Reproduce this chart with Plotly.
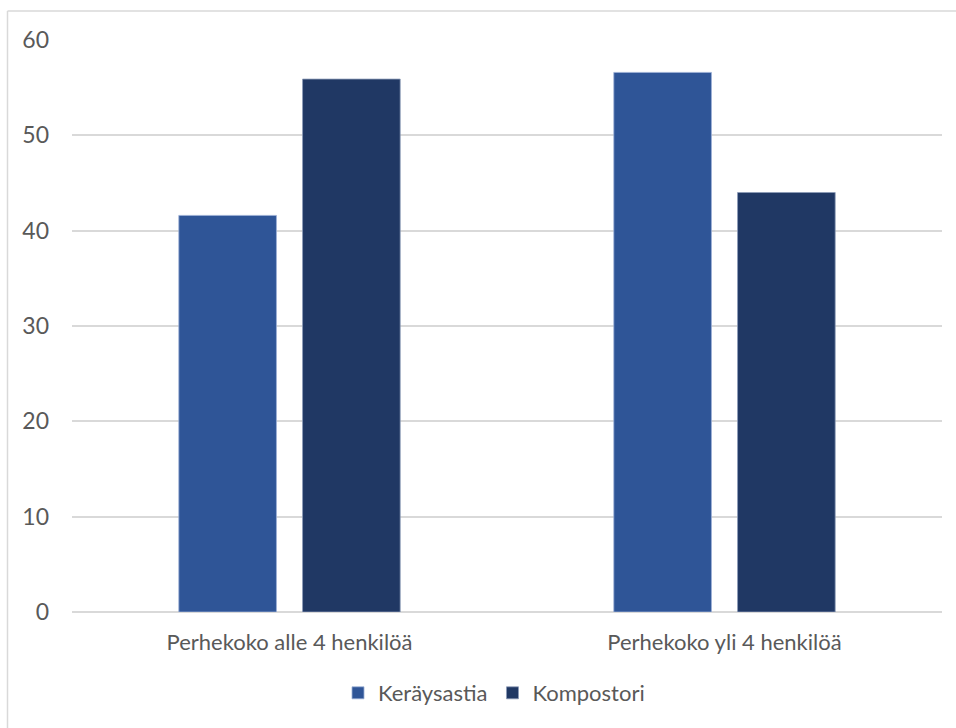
import plotly.graph_objects as go

categories = ["Perhekoko alle 4 henkilöä", "Perhekoko yli 4 henkilöä"]
keraysastia = [41.6, 56.6]
kompostori = [55.9, 44.0]
y_ticks = [0, 10, 20, 30, 40, 50, 60]

W, H = 956, 728
ML, MR, MT, MB = 72, 14, 40, 116

font_family = "Lato, Open Sans, sans-serif"
text_color = "#595959"
grid_color = "#D9D9D9"

fig = go.Figure()
fig.add_trace(go.Bar(
    name="Keräysastia", x=categories, y=keraysastia,
    marker=dict(color="#2F5597", line=dict(color="#9DB0D6", width=0.8)),
))
fig.add_trace(go.Bar(
    name="Kompostori", x=categories, y=kompostori,
    marker=dict(color="#203864", line=dict(color="#8C9BB8", width=0.8)),
))

# chart-area frame (left and top edges)
pw, ph = W - ML - MR, H - MT - MB
def px_x(p):
    return (p - ML) / pw
def px_y(p):
    return (H - MB - p) / ph

fig.add_shape(type="line", xref="paper", yref="paper",
              x0=px_x(7.5), x1=px_x(W + 5), y0=px_y(11), y1=px_y(11),
              line=dict(color=grid_color, width=1.5))
fig.add_shape(type="line", xref="paper", yref="paper",
              x0=px_x(7.5), x1=px_x(7.5), y0=px_y(11), y1=px_y(H + 5),
              line=dict(color=grid_color, width=1.5))

fig.update_layout(
    width=W, height=H,
    margin=dict(l=ML, r=MR, t=MT, b=MB),
    paper_bgcolor="white", plot_bgcolor="white",
    barmode="group", bargap=0.431, bargroupgap=0.211,
    font=dict(family=font_family, size=22, color=text_color),
    showlegend=True,
    legend=dict(orientation="h", x=px_x(494), xanchor="center",
                y=px_y(693), yanchor="middle",
                font=dict(size=22, color=text_color),
                traceorder="normal"),
    xaxis=dict(showgrid=False, showline=False, ticks="",
               ticklabelstandoff=15, tickfont=dict(size=22, color=text_color)),
    yaxis=dict(range=[0, 60], tickvals=y_ticks, showgrid=True,
               gridcolor=grid_color, gridwidth=1.5,
               zeroline=True, zerolinecolor=grid_color, zerolinewidth=1.5,
               showline=False, ticks="", ticklabelstandoff=22,
               tickfont=dict(size=23, color=text_color)),
)

fig.write_html("out.html")
